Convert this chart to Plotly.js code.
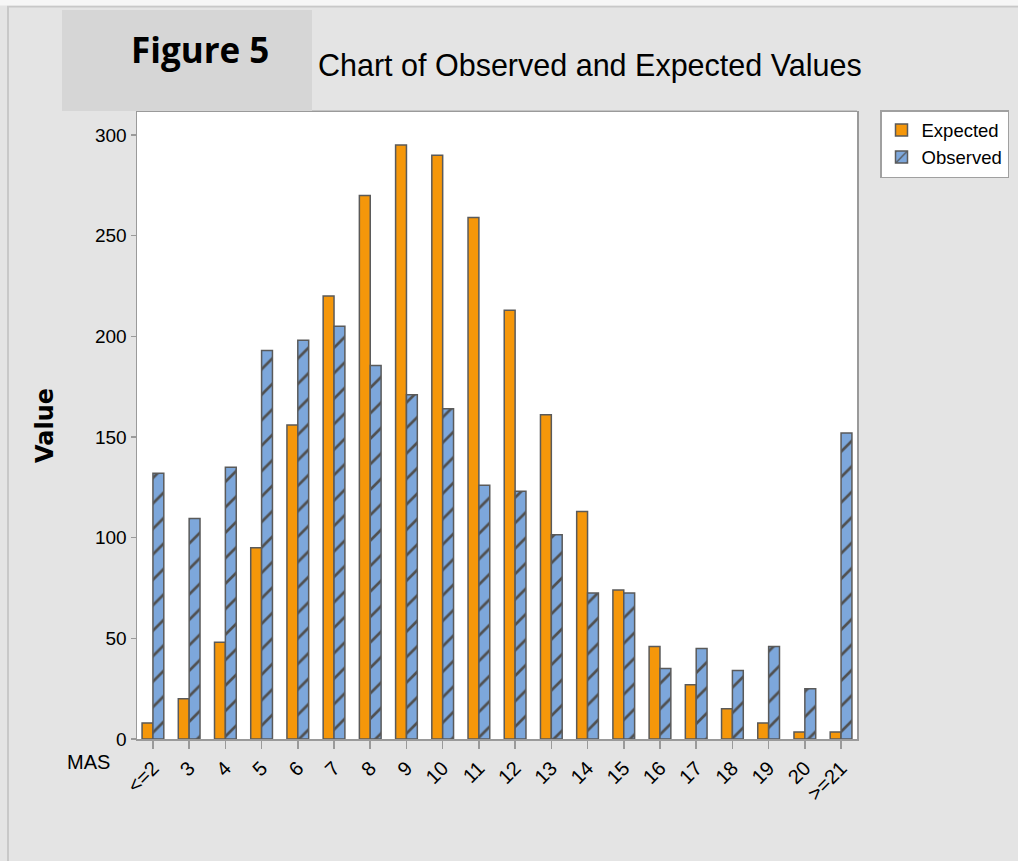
<!DOCTYPE html>
<html>
<head>
<meta charset="utf-8">
<script src="https://cdn.plot.ly/plotly-3.0.1.min.js"></script>
<style>
  html, body { margin: 0; padding: 0; background: #ffffff; }
  #chart { width: 1018px; height: 861px; }
</style>
</head>
<body>
<div id="chart"></div>
<script>
// ---- Data ----
const categories = ["<=2", "3", "4", "5", "6", "7", "8", "9", "10", "11", "12", "13", "14", "15", "16", "17", "18", "19", "20", ">=21"];
const expectedValues = [8, 20, 48, 95, 156, 220, 270, 295, 290, 259, 213, 161, 113, 74, 46, 27, 15, 8, 3.5, 3.5];
const observedValues = [132, 109.5, 135, 193, 198, 205, 185.5, 171, 164, 126, 123, 101.5, 72.5, 72.5, 35, 45, 34, 46, 25, 152];
const seriesNames = ["Expected", "Observed"];
const yTicks = [0, 50, 100, 150, 200, 250, 300];

// ---- Layout geometry (pixels) ----
const W = 1018, H = 861;
const plotL = 137, plotR = 857, plotT = 112, plotB = 739;
const px2x = x => (x - plotL) / (plotR - plotL);
const px2y = y => (plotB - y) / (plotB - plotT);

const narrow = "'Liberation Sans Narrow', 'Arial Narrow', 'Liberation Sans', sans-serif";
const outline = "#5a5a5a";

const traces = [
  {
    type: "bar",
    name: seriesNames[0],
    x: categories,
    y: expectedValues,
    marker: { color: "#F5970A", line: { color: outline, width: 1.5 } },
    hoverinfo: "x+y+name"
  },
  {
    type: "bar",
    name: seriesNames[1],
    x: categories,
    y: observedValues,
    marker: {
      color: "#7DA7DB",
      line: { color: outline, width: 1.5 },
      pattern: { shape: "/", fgcolor: "#505050", bgcolor: "#7DA7DB", size: 18, solidity: 0.15 }
    },
    hoverinfo: "x+y+name"
  }
];

const layout = {
  width: W,
  height: H,
  paper_bgcolor: "#e4e4e4",
  plot_bgcolor: "#ffffff",
  margin: { l: plotL, r: W - plotR, t: plotT, b: H - plotB, pad: 0, autoexpand: false },
  barmode: "group",
  bargap: 0.4,
  bargroupgap: 0,
  showlegend: true,
  title: {
    text: "Chart of Observed and Expected Values",
    font: { family: narrow, size: 30.5, color: "#000000" },
    xref: "container", yref: "container",
    x: 318 / W, xanchor: "left",
    y: 1 - 65 / H, yanchor: "middle"
  },
  xaxis: {
    type: "category",
    range: [-0.44, categories.length - 0.56],
    showline: true, linecolor: "#9a9a9a", linewidth: 1.5, mirror: true,
    ticks: "outside", ticklen: 8, tickcolor: "#9a9a9a", tickwidth: 1.5,
    tickangle: -45,
    tickfont: { family: narrow, size: 20, color: "#000000" },
    showgrid: false, zeroline: false
  },
  yaxis: {
    range: [0, (plotB - plotT) / ((plotB - 135) / 300)],
    tickvals: yTicks,
    ticktext: yTicks.map(String),
    showline: true, linecolor: "#9a9a9a", linewidth: 1.5, mirror: true,
    ticks: "outside", ticklen: 5, tickcolor: "#9a9a9a", tickwidth: 1.5,
    tickfont: { family: narrow, size: 19, color: "#000000" },
    showgrid: false, zeroline: false,
    title: { text: "Value", font: { family: "'DejaVu Sans', sans-serif", size: 24, weight: "bold", color: "#000000" }, standoff: 34 }
  },
  legend: {
    x: px2x(880), y: px2y(110), xanchor: "left", yanchor: "top",
    bgcolor: "#ffffff", bordercolor: "#a0a0a0", borderwidth: 1.5,
    font: { family: narrow, size: 18.5, color: "#000000" },
    tracegroupgap: 0, itemwidth: 30
  },
  shapes: [
    { type: "rect", xref: "paper", yref: "paper", layer: "below",
      x0: px2x(8), x1: px2x(1030), y0: px2y(900), y1: px2y(6.5),
      fillcolor: "rgba(0,0,0,0)", line: { color: "#c8c8c8", width: 2 } },
    { type: "rect", xref: "paper", yref: "paper", layer: "below",
      x0: px2x(-10), x1: px2x(1030), y0: px2y(5.5), y1: px2y(-10),
      fillcolor: "#f6f6f6", line: { width: 0 } },
    { type: "rect", xref: "paper", yref: "paper", layer: "below",
      x0: px2x(62), x1: px2x(312), y0: px2y(111), y1: px2y(10),
      fillcolor: "#d6d6d6", line: { width: 0 } },
    { type: "line", xref: "paper", yref: "paper", layer: "below",
      x0: px2x(312), x1: px2x(plotR), y0: px2y(111), y1: px2y(111),
      line: { color: "#b8b8b8", width: 1.5 } }
  ],
  annotations: [
    { text: "<b>Figure 5</b>", xref: "paper", yref: "paper",
      x: px2x(200), y: px2y(49), xanchor: "center", yanchor: "middle",
      showarrow: false, font: { family: "'Open Sans', sans-serif", size: 35, color: "#000000" } },
    { text: "MAS", xref: "paper", yref: "paper",
      x: px2x(88), y: px2y(762), xanchor: "center", yanchor: "middle",
      showarrow: false, font: { family: narrow, size: 20, color: "#000000" } }
  ]
};

Plotly.newPlot("chart", traces, layout, { displayModeBar: false, staticPlot: true });
</script>
</body>
</html>
